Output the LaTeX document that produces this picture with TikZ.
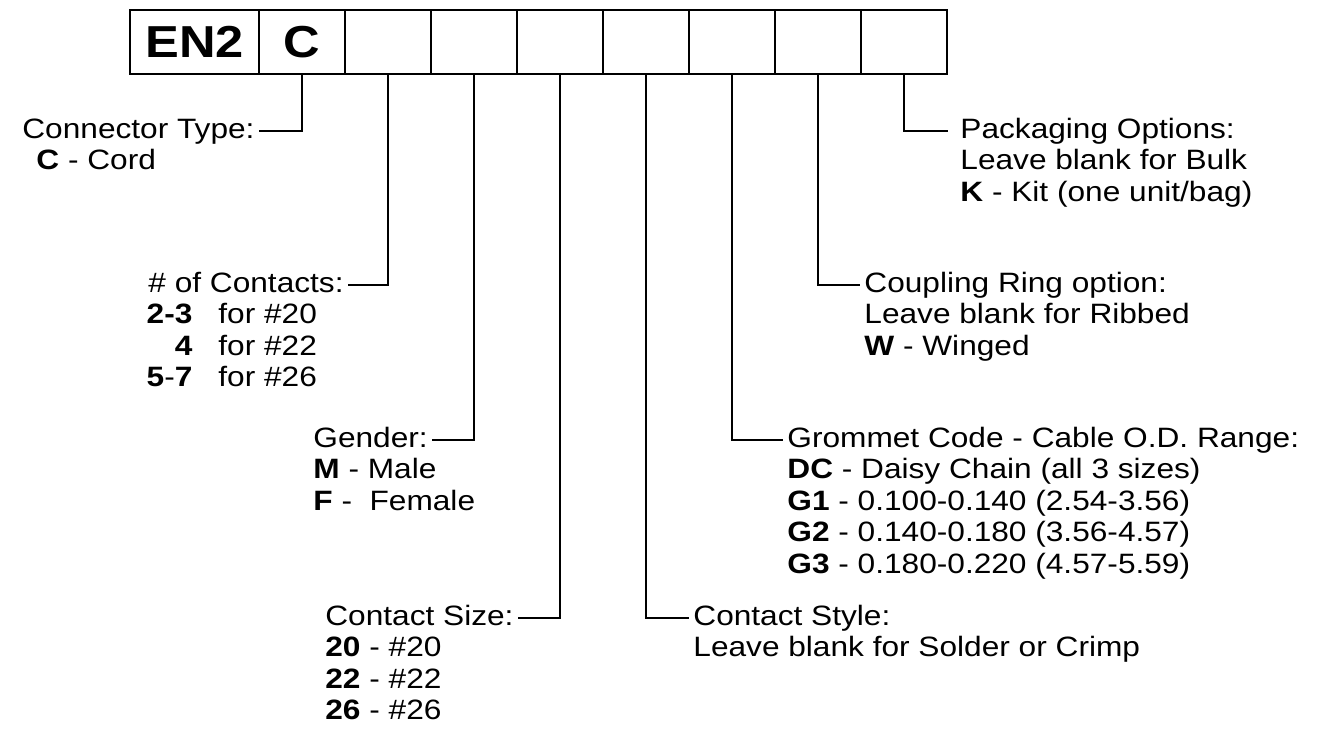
\documentclass[tikz,border=0pt]{standalone}
\usepackage{fontspec}
\setmainfont{Liberation Sans}[FakeStretch=1.13]
\usetikzlibrary{positioning}

\newcommand{\firstline}{\rule{0pt}{11pt}}

\tikzset{
	codebox/.style={draw, line width=1.1pt, minimum width=43pt, minimum height=32pt,
		inner sep=0pt, outer sep=0pt, font=\bfseries\fontsize{22.4pt}{24pt}\selectfont},
	title/.style={inner xsep=2pt, inner ysep=0pt, text height=10pt, text depth=2.8pt, anchor=base west},
	options/.style={inner xsep=2pt, inner ysep=0pt, align=left, anchor=north west},
	lead/.style={line width=0.7pt}
}

\begin{document}
\begin{tikzpicture}[x=0.5pt, y=-0.5pt, font=\fontsize{14pt}{15.75pt}\selectfont]
	\useasboundingbox (0,0) rectangle (1332,736);
	
	% Kasten der Bestellnummer
	\node[codebox, minimum width=64.5pt, anchor=north west] (en2) at (130,10) {EN2};
	\node[codebox, right=0pt of en2] (b1) {C};
	\foreach \i [remember=\i as \j (initially 1)] in {2,...,8}
		\node[codebox, right=0pt of b\j] (b\i) {};
	
	% Beschriftungen links
	\node[title] (ctype) at (18,138) {Connector Type:};
	\node[options] at ([yshift=-4.75pt]ctype.base west) {\firstline\hspace*{7pt}\textbf{C} - Cord};
	
	\node[title] (contacts) at (144,292) {\# of Contacts:};
	\node[options] at ([yshift=-4.75pt]contacts.base west) {%
		\firstline\makebox[22pt][r]{\textbf{2-3}}\hspace{13pt}for \#20\\
		\makebox[22pt][r]{\textbf{4}}\hspace{13pt}for \#22\\
		\makebox[22pt][r]{\textbf{5}-\textbf{7}}\hspace{13pt}for \#26};
	
	\node[title] (gender) at (309,447) {Gender:};
	\node[options] at ([yshift=-4.75pt]gender.base west) {\firstline\textbf{M} - Male\\ \textbf{F} -\ \ Female};
	
	\node[title] (csize) at (321,625) {Contact Size:};
	\node[options] at ([yshift=-4.75pt]csize.base west) {\firstline\textbf{20} - \#20\\ \textbf{22} - \#22\\ \textbf{26} - \#26};
	
	% Beschriftungen rechts
	\node[title] (cstyle) at (689,625) {Contact Style:};
	\node[options] at ([yshift=-4.75pt]cstyle.base west) {\firstline Leave blank for Solder or Crimp};
	
	\node[title] (grommet) at (783,447) {Grommet Code - Cable O.D. Range:};
	\node[options] at ([yshift=-4.75pt]grommet.base west) {%
		\firstline\textbf{DC} - Daisy Chain (all 3 sizes)\\
		\textbf{G1} - 0.100-0.140 (2.54-3.56)\\
		\textbf{G2} - 0.140-0.180 (3.56-4.57)\\
		\textbf{G3} - 0.180-0.220 (4.57-5.59)};
	
	\node[title] (coupling) at (860,292) {Coupling Ring option:};
	\node[options] at ([yshift=-4.75pt]coupling.base west) {\firstline Leave blank for Ribbed\\ \textbf{W} - Winged};
	
	\node[title] (pack) at (956,138) {Packaging Options:};
	\node[options] at ([yshift=-4.75pt]pack.base west) {\firstline Leave blank for Bulk\\ \textbf{K} - Kit (one unit/bag)};
	
	% Verbindungslinien
	\draw[lead] (b1.south) |- (ctype.east);
	\draw[lead] (b2.south) |- (contacts.east);
	\draw[lead] (b3.south) |- (gender.east);
	\draw[lead] (b4.south) |- (csize.east);
	\draw[lead] (b5.south) |- (cstyle.west);
	\draw[lead] (b6.south) |- (grommet.west);
	\draw[lead] (b7.south) |- (coupling.west);
	\draw[lead, shorten >=4pt] (b8.south) |- (pack.west);
	
\end{tikzpicture}
\end{document}
